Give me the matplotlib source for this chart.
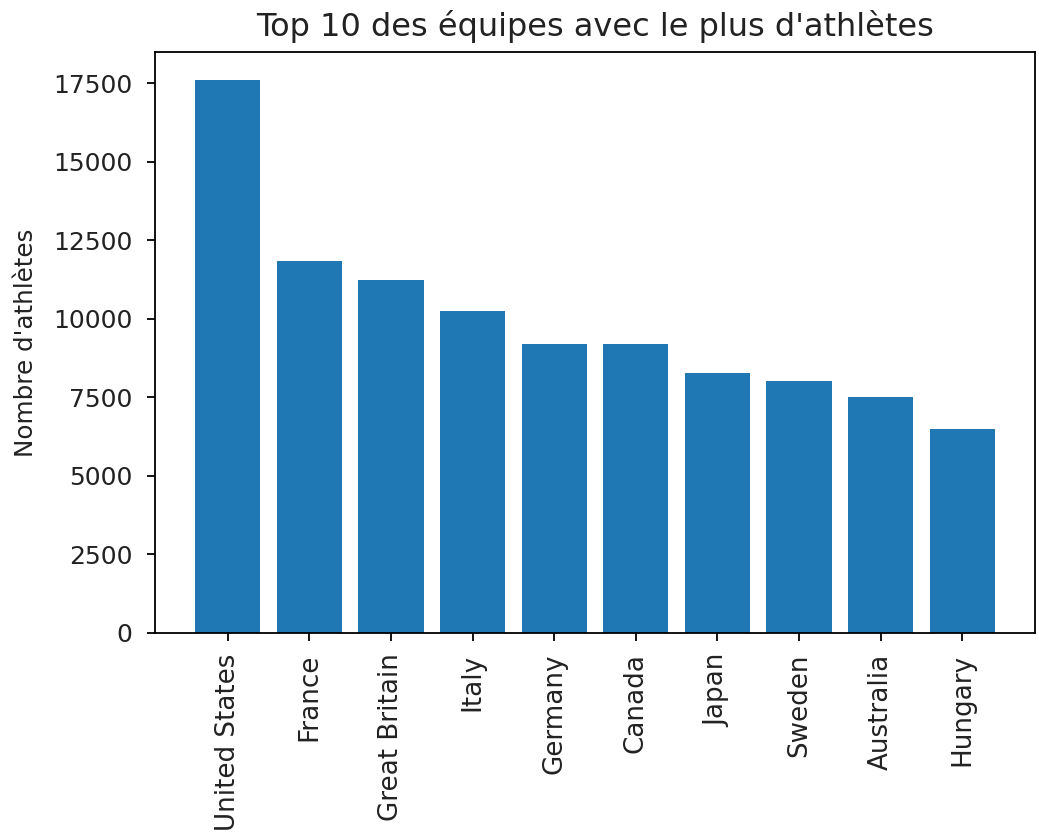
import matplotlib
matplotlib.use("Agg")
import matplotlib.pyplot as plt

teams = ["United States", "France", "Great Britain", "Italy", "Germany",
         "Canada", "Japan", "Sweden", "Australia", "Hungary"]
athletes = [17608, 11827, 11232, 10236, 9208, 9208, 8273, 8031, 7509, 6491]

plt.rcParams['font.family'] = ['DejaVu Sans']
plt.rcParams['axes.linewidth'] = 1.3

fig = plt.figure(figsize=(10.39, 8.35), dpi=100)
ax = fig.add_axes([155/1039, (835-633)/835, (1035-155)/1039, (633-52)/835])
ax.bar(teams, athletes, color="#1f77b4")
ax.set_title("Top 10 des équipes avec le plus d'athlètes", pad=11.5, fontsize=23,
             color="#222222")
ax.set_ylabel("Nombre d'athlètes", fontsize=17.7, labelpad=11, color="#222222")
ax.tick_params(length=5.8, width=1.3, labelcolor="#222222")
ax.tick_params(axis='x', labelrotation=90, labelsize=18.8, pad=9)
ax.tick_params(axis='y', labelsize=18, pad=10.5)
fig.savefig("out.png", dpi=100)
